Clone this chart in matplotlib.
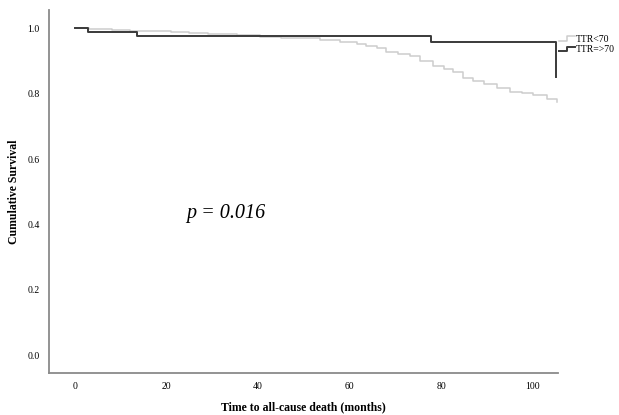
import numpy as np
import matplotlib
matplotlib.use("Agg")
import matplotlib.pyplot as plt
from matplotlib.lines import Line2D
from matplotlib.legend_handler import HandlerBase

# Kaplan-Meier curves (time in months, cumulative survival)
t_low = [0, 3, 8, 12, 16, 21, 25, 29, 35.3, 40.4, 45, 49.1, 53.5, 57.9, 61.5, 63.5,
         65.9, 68.0, 70.5, 73.1, 75.3, 78.2, 80.5, 82.6, 84.8, 87, 89.2, 92.1, 95.0,
         97.5, 100.1, 103.0, 105.2]
s_low = [1.0, 0.997, 0.995, 0.993, 0.991, 0.989, 0.987, 0.983, 0.9795, 0.974, 0.971,
         0.969, 0.964, 0.957, 0.951, 0.946, 0.939, 0.928, 0.922, 0.916, 0.900, 0.886,
         0.876, 0.867, 0.847, 0.838, 0.830, 0.818, 0.806, 0.801, 0.796, 0.784, 0.776]

t_high = [0, 2.9, 13.6, 77.8, 105.0, 105.0]
s_high = [1.0, 0.989, 0.978, 0.959, 0.959, 0.852]

labels = ["TTR<70", "TTR=>70"]
p_text = "p = 0.016"

serif = "Liberation Serif"


class StepHandler(HandlerBase):
    # draws the little step glyph used in the legend
    def create_artists(self, legend, orig_handle, xdescent, ydescent,
                       width, height, fontsize, trans):
        xs = np.array([0, 0.5, 0.5, 1.0]) * width - xdescent
        ys = np.array([0.15, 0.15, 0.85, 0.85]) * height - ydescent
        ln = Line2D(xs, ys, color=orig_handle.get_color(),
                    lw=orig_handle.get_linewidth(), transform=trans)
        return [ln]


fig = plt.figure(figsize=(6.19, 4.15), dpi=100)
ax = fig.add_axes([49.3 / 619, 1 - 373.3 / 415, (557.7 - 49.3) / 619, (373.3 - 10) / 415])

l1, = ax.step(t_low, s_low, where="post", color="#cdcdcd", lw=1.1)
l2, = ax.step(t_high, s_high, where="post", color="#3a3a3a", lw=1.4)

ax.set_xlim(-5.6, 105.4)
ax.set_ylim(-0.055, 1.056)
ax.set_xticks([0, 20, 40, 60, 80, 100])
ax.set_yticks([0.0, 0.2, 0.4, 0.6, 0.8, 1.0])
ax.set_yticklabels(["0.0", "0.2", "0.4", "0.6", "0.8", "1.0"])
ax.tick_params(length=0, labelsize=7)
ax.tick_params(axis="x", pad=6)
ax.tick_params(axis="y", pad=7)
for lab in ax.get_xticklabels() + ax.get_yticklabels():
    lab.set_family(serif)

for side in ["top", "right"]:
    ax.spines[side].set_visible(False)
for side in ["left", "bottom"]:
    ax.spines[side].set_color("#8a8a8a")
    ax.spines[side].set_linewidth(1.3)

ax.set_xlabel("Time to all-cause death (months)", family=serif, fontweight="bold",
              fontsize=8.5, labelpad=8)
ax.set_ylabel("Cumulative Survival", family=serif, fontweight="bold",
              fontsize=8.5, labelpad=5)

ax.text(24.2, 0.435, p_text, family=serif, style="italic", fontsize=14.5,
        ha="left", va="center")

fig.legend([l1, l2], labels, handler_map={l1: StepHandler(), l2: StepHandler()},
           loc="upper left", bbox_to_anchor=(559 / 619, 1 - 35 / 415),
           frameon=False, borderpad=0, borderaxespad=0, handlelength=1.6,
           handletextpad=0.1, labelspacing=0.15, prop={"family": serif, "size": 7})

fig.savefig("out.png", dpi=100)
